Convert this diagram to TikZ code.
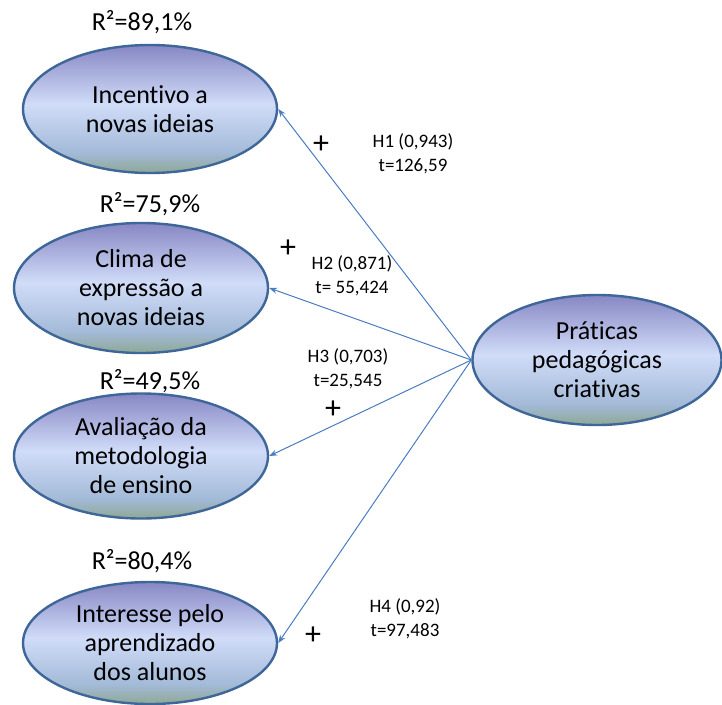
\documentclass[tikz,border=0pt]{standalone}
\usepackage{fontspec}
\setmainfont[Ligatures=NoCommon]{Carlito}
\usetikzlibrary{shapes.geometric,arrows.meta}
\definecolor{topc}{HTML}{8787C4}
\definecolor{midc}{HTML}{D0DCF8}
\definecolor{lowc}{HTML}{A3BAD8}
\definecolor{botc}{HTML}{8EA894}
\definecolor{edgec}{HTML}{3F6698}
\definecolor{arrc}{HTML}{4A7CC0}
\pgfdeclareverticalshading{ovalshade}{100bp}{color(0bp)=(botc); color(25bp)=(botc); color(33bp)=(lowc); color(52bp)=(midc); color(75bp)=(topc); color(100bp)=(topc)}
\tikzset{
  construct/.style={ellipse, draw=edgec, line width=2.4pt, shading=ovalshade,
    minimum width=254pt, minimum height=128pt, inner sep=0pt, align=center,
    font=\fontsize{26}{29}\selectfont},
  rsq/.style={font=\fontsize{26}{29}\selectfont},
  hyp/.style={align=center, font=\fontsize{19}{24}\selectfont},
  plus/.style={font=\fontsize{32}{32}\selectfont},
  link/.style={draw=arrc, line width=1pt, -{Stealth[length=8pt,width=6pt]}}
}
\begin{document}
\begin{tikzpicture}[x=1pt,y=-1pt]
\useasboundingbox (0,0) rectangle (722,704);
\node[construct, minimum height=128pt] (e1) at (150,109) {Incentivo a\\novas ideias};
\node[construct, minimum height=130pt] (e2) at (141,288) {Clima de\\expressão a\\novas ideias};
\node[construct, minimum height=125pt] (e3) at (141,456) {Avaliação da\\metodologia\\de ensino};
\node[construct, minimum height=122pt] (e4) at (150,643) {Interesse pelo\\aprendizado\\dos alunos};
\node[construct, minimum width=249pt, minimum height=130pt] (p) at (597,360) {Práticas\\pedagógicas\\criativas};

\node[rsq] (r1) at (142,22) {R²=89,1\%};
\node[rsq] (r2) at (150,204) {R²=75,9\%};
\node[rsq] (r3) at (150,381) {R²=49,5\%};
\node[rsq] (r4) at (142,561) {R²=80,4\%};

\draw[link] (p.west) -- (e1.east);
\draw[link] (p.west) -- (e2.east);
\draw[link] (p.west) -- (e3.east);
\draw[link] (p.west) -- (e4.east);

\node[hyp] (h1) at (413,154) {H1 (0,943)\\t=126,59};
\node[hyp] (h2) at (352,276) {H2 (0,871)\\t= 55,424};
\node[hyp] (h3) at (348,369) {H3 (0,703)\\t=25,545};
\node[hyp] (h4) at (405,619) {H4 (0,92)\\t=97,483};

\node[plus] (p1) at (321,145) {+};
\node[plus] (p2) at (288,249) {+};
\node[plus] (p3) at (333,410) {+};
\node[plus] (p4) at (313,636) {+};
\end{tikzpicture}
\end{document}
